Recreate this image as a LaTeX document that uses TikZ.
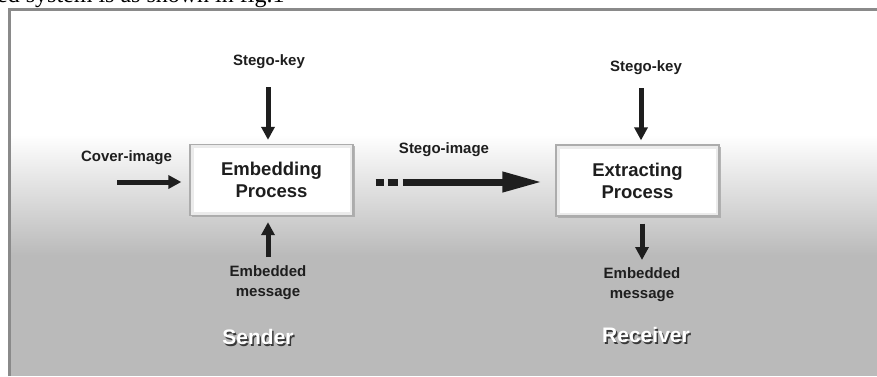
\documentclass[tikz,border=0pt]{standalone}
\usepackage{fontspec}
\setmainfont{Liberation Sans}
\newfontfamily\serifface{Liberation Serif}
\usetikzlibrary{arrows.meta,shadows}
\definecolor{bggray}{HTML}{BABABA}
\definecolor{framegray}{HTML}{8A8A8A}
\definecolor{inkcol}{HTML}{1E1E1E}
\begin{document}
\begin{tikzpicture}[x=1pt,y=-1pt,
  lbl/.style={font=\fontsize{15}{20}\selectfont\bfseries, text=inkcol, inner sep=0pt, align=center},
  procbox/.style={draw=gray!65, line width=1.3pt, fill=white,
    minimum width=163pt, minimum height=71pt, inner sep=0pt,
    font=\fontsize{18.5}{22}\selectfont\bfseries, align=center, text=inkcol,
    drop shadow={shadow xshift=1.5pt, shadow yshift=-1.5pt, fill=gray!70, opacity=0.8},
    path picture={\draw[gray!16, line width=7pt] (path picture bounding box.south west) rectangle (path picture bounding box.north east);}},
  arr/.style={line width=5pt, inkcol, -{Triangle[length=13pt,width=13pt]}},
  bigarr/.style={line width=7pt, inkcol, -{Triangle[length=40pt,width=19pt]}},
  role/.style={font=\fontsize{21}{24}\selectfont\bfseries, inner sep=0pt}]
\useasboundingbox (0,0) rectangle (877,376);
% page background and frame
\fill[white] (0,0) rectangle (877,376);
\fill[white] (11,11) rectangle (877,135);
\shade[top color=white, bottom color=bggray] (11,134.5) rectangle (877,255.5);
\fill[bggray] (11,255) rectangle (877,376);
\draw[framegray, line width=3pt] (9.5,376) -- (9.5,9.5) -- (877,9.5);
% cropped caption line above the frame
\node[font=\serifface\fontsize{24}{26}\selectfont, anchor=base west, inner sep=0pt] (topline) at (-3,2) {ed system is as shown in fig.1};
% process boxes
\node[procbox] (emb) at (271.5,180) {Embedding\\Process};
\node[procbox] (ext) at (637.5,180.5) {Extracting\\Process};
% labels
\node[lbl] (key1) at (269,62) {Stego-key};
\node[lbl] (cover) at (126.5,158) {Cover-image};
\node[lbl] (msg1) at (268,283) {Embedded\\message};
\node[lbl] (stego) at (444,150) {Stego-image};
\node[lbl] (key2) at (646,68) {Stego-key};
\node[lbl] (msg2) at (642,285) {Embedded\\message};
% connectors
\draw[arr] ([xshift=-1pt,yshift=-25pt]key1.center) -- ([xshift=-1pt,yshift=4pt]key1.center |- emb.north);
\draw[arr] ([xshift=-72pt,yshift=-2pt]emb.west) -- ([xshift=-8pt,yshift=-2pt]emb.west);
\draw[arr] ([yshift=26pt]msg1.center) -- ([yshift=-6pt]msg1.center |- emb.south);
\draw[bigarr, dash pattern=on 8pt off 4pt on 10pt off 5pt on 400pt] ([xshift=22pt,yshift=-2pt]emb.east) -- ([xshift=-13pt,yshift=-1.5pt]ext.west);
\draw[arr] ([xshift=-5pt,yshift=-20pt]key2.center) -- ([xshift=-5pt,yshift=4pt]key2.center |- ext.north);
\draw[arr] ([yshift=-7pt]msg2.center |- ext.south) -- ([yshift=25pt]msg2.center);
% roles with shadow
\node[role, text=gray!45!black] (sendsh) at (259.5,338.5) {Sender};
\node[role, text=white] (send) at (258,337) {Sender};
\node[role, text=gray!45!black] (recvsh) at (647.5,336.5) {Receiver};
\node[role, text=white] (recv) at (646,335) {Receiver};
\end{tikzpicture}
\end{document}
